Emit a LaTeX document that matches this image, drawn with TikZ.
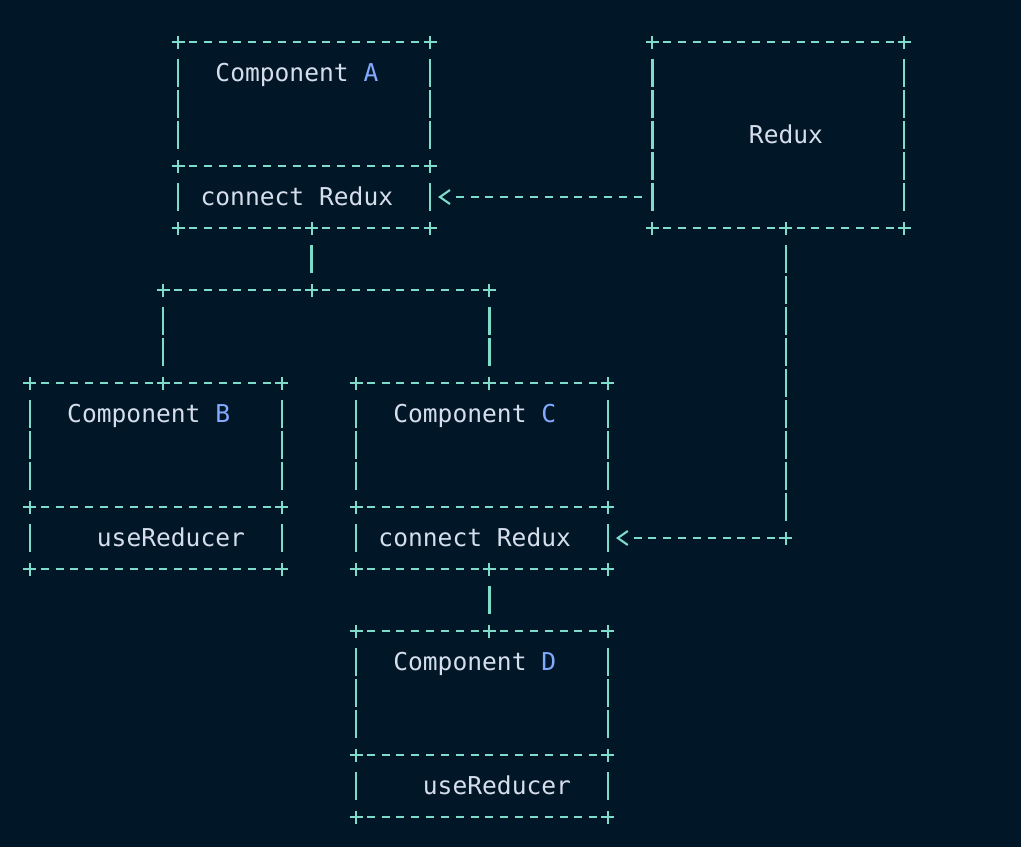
\documentclass[tikz,border=0pt]{standalone}
\usepackage{fontspec}
\newfontfamily\asciifont{DejaVu Sans Mono}
\definecolor{termbg}{HTML}{011627}
\definecolor{lineteal}{HTML}{7FDBCA}
\definecolor{labelgray}{HTML}{D6DEEB}
\definecolor{letterblue}{HTML}{82AAFF}

\begin{document}
\begin{tikzpicture}[x=14.82pt,y=-31pt,
		boxframe/.style={rectangle,minimum width=251.94pt,minimum height=186pt,inner sep=0pt,outer sep=0pt},
		hdash/.style={draw=lineteal,line width=2.1pt,dash pattern=on 8pt off 6.82pt,dash phase=11.41pt,shorten <=7.41pt,shorten >=7.41pt},
		vbar/.style={draw=lineteal,line width=2.2pt,dash pattern=on 28pt off 3pt,dash phase=29.5pt,shorten <=15.5pt,shorten >=15.5pt},
		chevron/.style={draw=lineteal,line width=2.1pt,line join=miter},
		boxtext/.style={font=\asciifont\fontsize{24.6}{30}\selectfont,text=labelgray,inner sep=0pt,text height=16.5pt,text depth=0pt,anchor=west},
		pics/asciiplus/.style={code={\draw[lineteal,line width=2.1pt] (-6.5pt,0) -- (6.5pt,0) (0,-6.5pt) -- (0,6.5pt);}}]
		
		\fill[termbg] (-2.024,-1.355) rectangle (66.87,25.97);
		\useasboundingbox (-2.024,-1.355) rectangle (66.87,25.97);
		
		% boxes: name / centre / with separator line
		\foreach \bx/\cx/\cy/\hassep in {boxA/18.5/3/1, redux/50.5/3/0, boxB/8.5/14/1, boxC/30.5/14/1, boxD/30.5/22/1}{
			\node[boxframe] (\bx) at (\cx,\cy) {};
			\draw[hdash] (\bx.north west) -- (\bx.north east);
			\draw[hdash] (\bx.south west) -- (\bx.south east);
			\ifnum\hassep=1
			\draw[hdash] ([yshift=62pt]\bx.south west) -- ([yshift=62pt]\bx.south east);
			\draw[vbar] (\bx.north west) -- ([yshift=62pt]\bx.south west);
			\draw[vbar] ([yshift=62pt]\bx.south west) -- (\bx.south west);
			\draw[vbar] (\bx.north east) -- ([yshift=62pt]\bx.south east);
			\draw[vbar] ([yshift=62pt]\bx.south east) -- (\bx.south east);
			\pic at ([yshift=62pt]\bx.south west) {asciiplus};
			\pic at ([yshift=62pt]\bx.south east) {asciiplus};
			\else
			\draw[vbar] (\bx.north west) -- (\bx.south west);
			\draw[vbar] (\bx.north east) -- (\bx.south east);
			\fi
			\foreach \corner in {north west,north east,south west,south east}
			\pic at (\bx.\corner) {asciiplus};
		}
		
		\node[boxtext] (txtA) at (12.5,1) {Component \textcolor{letterblue}{A}};
		\node[boxtext] (connA) at (11.5,5) {connect Redux};
		\node[boxtext] (txtRedux) at (48.5,3) {Redux};
		\node[boxtext] (txtB) at (2.5,12) {Component \textcolor{letterblue}{B}};
		\node[boxtext] (hookB) at (4.5,16) {useReducer};
		\node[boxtext] (txtC) at (24.5,12) {Component \textcolor{letterblue}{C}};
		\node[boxtext] (connC) at (23.5,16) {connect Redux};
		\node[boxtext] (txtD) at (24.5,20) {Component \textcolor{letterblue}{D}};
		\node[boxtext] (hookD) at (26.5,24) {useReducer};
		
		\coordinate (aOut) at (19,6);
		\coordinate (forkB) at (9,8);
		\coordinate (forkM) at (19,8);
		\coordinate (forkC) at (31,8);
		\coordinate (bIn) at (9,11);
		\coordinate (cIn) at (31,11);
		\coordinate (cOut) at (31,17);
		\coordinate (dIn) at (31,19);
		\coordinate (rOut) at (51,6);
		\coordinate (rTurn) at (51,16);
		\coordinate (aArrow) at (28,5);
		\coordinate (cArrow) at (40,16);
		
		\foreach \p in {aOut,forkB,forkM,forkC,bIn,cIn,cOut,dIn,rOut,rTurn}
		\pic at (\p) {asciiplus};
		
		\draw[vbar] (aOut) -- (forkM);
		\draw[hdash] (forkB) -- (forkC);
		\draw[vbar] (forkB) -- (bIn);
		\draw[vbar] (forkC) -- (cIn);
		\draw[vbar] (cOut) -- (dIn);
		\draw[vbar] (rOut) -- (rTurn);
		\draw[hdash] (rTurn) -- (cArrow);
		\draw[hdash] (redux.west |- aArrow) -- (aArrow);
		
		\draw[chevron] ([shift={(5pt,7pt)}]aArrow) -- ([xshift=-5pt]aArrow) -- ([shift={(5pt,-7pt)}]aArrow);
		\draw[chevron] ([shift={(5pt,7pt)}]cArrow) -- ([xshift=-5pt]cArrow) -- ([shift={(5pt,-7pt)}]cArrow);
\end{tikzpicture}
\end{document}
